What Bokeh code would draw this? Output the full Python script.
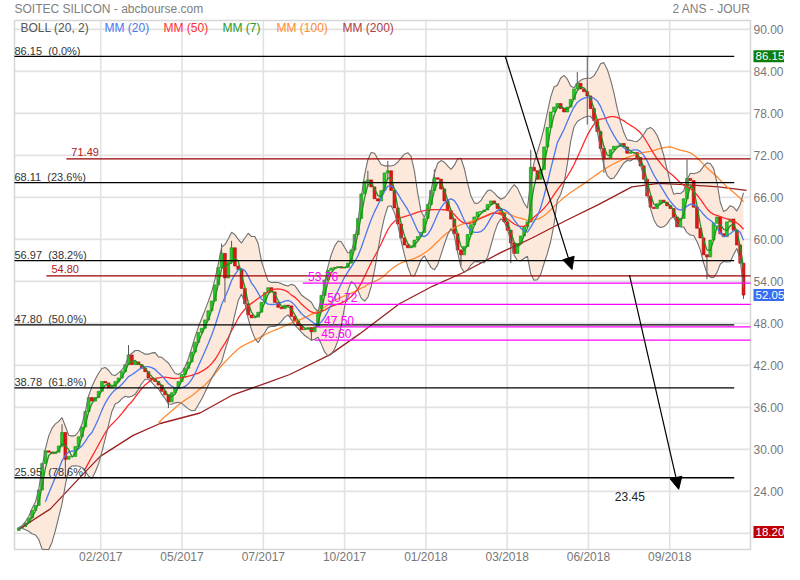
import numpy as np
import pandas as pd
from bokeh.plotting import figure
from bokeh.models import (ColumnDataSource, LabelSet, Label, Arrow, NormalHead, Range1d)
from bokeh.embed import file_html
from bokeh.resources import INLINE
from bokeh.core.properties import value

# ---------------- data ----------------
# closing prices, one sample every ~2.3 trading days (Nov 2016 -> Nov 2018)
closes = [
    18.8, 19.0, 19.5, 20.2, 21.3, 22.0, 24.2, 28.0, 29.8, 29.6,
    29.4, 29.6, 30.5, 32.4, 28.6, 29.0, 29.0, 30.4, 31.8, 33.2,
    35.4, 37.4, 36.9, 37.4, 38.3, 39.7, 39.5, 38.8, 39.0, 39.7,
    40.2, 41.1, 42.1, 43.5, 42.1, 42.5, 42.1, 41.6, 41.1, 40.2,
    40.0, 39.7, 39.2, 38.3, 37.8, 36.8, 38.1, 38.8, 39.7, 40.7,
    41.6, 42.5, 43.9, 45.3, 46.7, 47.3, 48.5,
    49.8, 51.2, 53.5, 56.0, 58.0, 54.5, 56.8, 58.8, 56.2, 55.7,
    53.0, 50.8, 49.2, 48.8, 48.9, 49.6, 51.0, 52.4, 53.1, 52.5,
    51.0, 50.3, 50.1, 50.6, 50.5, 49.0, 48.4, 47.7, 47.1, 47.2,
    47.4, 46.8, 47.5, 49.8, 52.0, 54.2, 55.6, 55.9, 56.0, 56.1,
    55.9, 56.0, 56.6, 58.5, 60.7,
    63.0, 66.5, 68.3, 68.5, 67.5, 65.8, 65.5, 67.0, 69.5, 69.8,
    67.0, 64.5, 62.2, 60.2, 59.2, 58.8, 58.9, 59.9, 60.4, 61.0,
    63.0, 65.0, 67.0, 68.8, 68.6, 67.2, 65.5, 64.1, 62.9, 60.8,
    58.5, 57.8, 59.0, 60.7, 62.1, 63.2, 63.9, 64.0, 64.2, 65.0,
    65.5, 65.1, 64.4, 63.7, 62.5,
    61.3, 59.5, 58.0, 59.4, 60.5, 61.8, 62.5, 70.3, 69.8, 68.6,
    70.0, 73.2, 76.0, 78.2, 78.9, 79.4, 78.7, 78.2, 78.9, 80.0,
    81.5, 82.3, 81.5, 81.1, 80.5, 78.7, 77.0, 75.4, 73.0, 71.5,
    71.6, 72.8, 73.3, 73.3, 73.7, 73.2, 72.3, 72.4, 72.4, 71.7,
    70.5, 68.6, 66.2, 64.6, 64.4, 65.1, 65.6, 65.3, 64.8, 64.4,
    63.2, 61.8, 63.0, 65.8, 68.7, 68.4, 64.6, 61.6, 60.2, 57.8,
    57.5, 59.9, 62.3, 63.2, 60.8, 60.4, 62.5, 62.9, 61.3, 59.2,
    56.6, 52.05,
]
first_open = 18.4

# notable wicks (sample index, low, high)
wick_idx = [13, 14, 33, 45, 61, 62, 64, 88, 105, 111, 125, 133, 148, 154,
            168, 171, 176, 201, 207, 218]
wick_low = [30.3, 26.0, 42.5, 35.9, 56.0, 51.0, 56.5, 45.6, 67.5, 68.5,
            67.5, 56.2, 56.6, 62.5, 81.5, 76.4, 69.5, 66.0, 54.3, 51.5]
wick_high = [33.6, 32.4, 44.9, 37.8, 59.4, 58.0, 59.8, 47.4, 69.8, 71.2,
             70.0, 58.5, 61.3, 72.8, 83.9, 86.15, 73.0, 71.4, 57.8, 56.6]

# MM(200) as drawn (uses history before the window)
mm200_idx = [0, 9.5, 19.4, 24.5, 34.4, 42.5, 54.5, 64.4, 74.6, 81.5, 93.5,
             102.5, 114.5, 124.4, 133.4, 144.5, 154.4, 164.6, 174.5, 184.4,
             192.5, 201.5, 210.5, 218.9]
mm200_val = [18.6, 21.5, 26.5, 29.0, 32.0, 33.7, 35.2, 37.8, 39.5, 40.7, 43.5,
             46.5, 50.8, 53.3, 55.2, 58.0, 60.2, 62.7, 65.0, 67.5,
             68.0, 67.8, 67.5, 67.0]

x_tick_index = [24.65, 49.1, 73.55, 98.0, 122.45, 146.9, 171.35, 195.8]
x_tick_labels = ["02/2017", "05/2017", "07/2017", "10/2017", "01/2018",
                 "03/2018", "06/2018", "09/2018"]
y_ticks = [18, 24, 30, 36, 42, 48, 54, 60, 66, 72, 78, 84, 90]

fib_levels = [86.15, 68.11, 56.97, 47.80, 38.78, 25.95]
fib_pct = ["0.0%", "23.6%", "38.2%", "50.0%", "61.8%", "78.6%"]
fib_end_idx = 215.2

res_levels = [71.49, 54.80]
res_start_idx = [14.3, 8.3]

mag_levels = [53.76, 50.72, 47.50, 45.60]
mag_start_idx = [85.4, 90.5, 89.0, 89.0]
mag_label_idx = [87.0, 92.8, 91.8, 91.0]

arrow_x0 = [146.3, 183.7]
arrow_y0 = [86.2, 54.9]
arrow_x1 = [166.4, 198.5]
arrow_y1 = [55.7, 24.3]
target_text = "23.45"
target_idx = 179.3
target_price = 23.3

last_close = 52.05
period_high = 86.15
period_low = 18.20

legend_texts = ["BOLL (20, 2)", "MM (20)", "MM (50)", "MM (7)", "MM (100)", "MM (200)"]
legend_colors = ["#555555", "#4a78f0", "#ff3030", "#2a9a2a", "#ff8a30", "#b04040"]

# ---------------- layout (figure pixels) ----------------
DAYS_PER_SAMPLE = 2.33
FONT = "Liberation Sans"
W, H = 784, 564
PL, PR, PT, PB = 14, 750, 20, 549          # plot-area box in pixels
X_LO, X_HI = -1.3, 220.1                    # sample range shown in the plot area
Y_LO, Y_HI = 15.70, 91.27                   # price range shown in the plot area
XPX = (PR - PL) / (X_HI - X_LO)
YPX = (PB - PT) / (Y_HI - Y_LO)


def xd(px):
    return X_LO + (px - PL) / XPX


def yd(py):
    return Y_HI - (py - PT) / YPX


c = np.array(closes, dtype=float)
o = np.concatenate([[first_open], c[:-1]])
idx = np.arange(len(c), dtype=float)
s = pd.Series(c)


def win(days):
    return max(1, int(round(days / DAYS_PER_SAMPLE)))


w20 = win(20)
mid = s.rolling(w20, min_periods=1).mean()
sd = s.rolling(w20, min_periods=1).std(ddof=0).fillna(0)
upper = (mid + 2 * sd).to_numpy()
lower = np.maximum((mid - 2 * sd).to_numpy(), Y_LO)
mm20 = s.rolling(w20).mean().to_numpy()
mm7 = s.rolling(win(7)).mean().to_numpy()
mm50 = s.rolling(win(50)).mean().to_numpy()
mm100 = s.rolling(win(100)).mean().to_numpy()

p = figure(width=W, height=H, output_backend="svg", toolbar_location=None,
           x_range=Range1d(xd(0), xd(W)), y_range=Range1d(yd(H), yd(0)),
           x_axis_location=None, y_axis_location=None, title=None,
           min_border=0, min_border_left=0, min_border_right=0,
           min_border_top=0, min_border_bottom=0,
           background_fill_color="white", border_fill_color="white",
           outline_line_color=None)
for g in p.grid:
    g.visible = False

# grid and plot-area border
p.segment(x0=[X_LO] * len(y_ticks), y0=y_ticks, x1=[X_HI] * len(y_ticks),
          y1=y_ticks, line_color="#e2e2e2", line_width=1.6)
p.segment(x0=x_tick_index, y0=[Y_LO] * len(x_tick_index), x1=x_tick_index,
          y1=[Y_HI] * len(x_tick_index), line_color="#e2e2e2", line_width=1.6)
p.quad(left=[X_LO], right=[X_HI], bottom=[Y_LO], top=[Y_HI],
       fill_color=None, line_color="#d6d6d6", line_width=1.5)

# Bollinger band fill
p.varea(x=idx, y1=lower, y2=upper, fill_color="#fde8dc", fill_alpha=1.0)

# candles
p.segment(x0=wick_idx, y0=wick_low, x1=wick_idx, y1=wick_high,
          line_color="#555555", line_width=1)
up = c >= o
p.vbar(x=idx[up], top=c[up], bottom=o[up], width=0.85,
       fill_color="#22cc22", line_color="#118811", line_width=0.6)
dn = ~up
p.vbar(x=idx[dn], top=o[dn], bottom=c[dn], width=0.85,
       fill_color="#e01818", line_color="#b00000", line_width=0.6)

# moving averages and bands
p.line(x=mm200_idx, y=mm200_val, line_color="#9a2020", line_width=1.3)
p.line(x=idx, y=mm100, line_color="#ff8a30", line_width=1.3)
p.line(x=idx, y=mm50, line_color="#ff2a2a", line_width=1.3)
p.line(x=idx, y=mm20, line_color="#4a78f0", line_width=1.3)
p.line(x=idx, y=mm7, line_color="#1f8f1f", line_width=1.3)
p.line(x=idx, y=upper, line_color="#707070", line_width=1.1)
p.line(x=idx, y=lower, line_color="#707070", line_width=1.1)

# Fibonacci retracements
nb = "\u00a0"
p.segment(x0=[X_LO] * len(fib_levels), y0=fib_levels,
          x1=[fib_end_idx] * len(fib_levels), y1=fib_levels,
          line_color="black", line_width=1.3)
fib_src = ColumnDataSource(dict(
    x=[X_LO] * len(fib_levels), y=[v + 1.5 / YPX for v in fib_levels],
    t=["%.2f%s%s(%s)" % (v, nb, nb, q) for v, q in zip(fib_levels, fib_pct)]))
p.add_layout(LabelSet(x="x", y="y", text="t", source=fib_src,
                      text_font=value(FONT), text_font_size="11px",
                      text_color="#333333", text_baseline="alphabetic"))

# resistance lines
p.segment(x0=res_start_idx, y0=res_levels, x1=[X_HI] * 2, y1=res_levels,
          line_color="#9a0000", line_width=1.3)
res_src = ColumnDataSource(dict(
    x=[v + 5 / XPX for v in res_start_idx], y=[v + 2.5 / YPX for v in res_levels],
    t=["%.2f" % v for v in res_levels]))
p.add_layout(LabelSet(x="x", y="y", text="t", source=res_src,
                      text_font=value(FONT), text_font_size="11px",
                      text_color="#b02020", text_baseline="alphabetic"))

# magenta levels
p.segment(x0=mag_start_idx, y0=mag_levels, x1=[X_HI] * 4, y1=mag_levels,
          line_color="#ff00ff", line_width=1.2)
mag_src = ColumnDataSource(dict(
    x=mag_label_idx, y=[v + 2.0 / YPX for v in mag_levels],
    t=["%.2f" % v for v in mag_levels]))
p.add_layout(LabelSet(x="x", y="y", text="t", source=mag_src,
                      text_font=value(FONT), text_font_size="12px",
                      text_color="#ff00ff", text_baseline="alphabetic"))

# trend arrows
for xa, ya, xb, yb in zip(arrow_x0, arrow_y0, arrow_x1, arrow_y1):
    p.add_layout(Arrow(end=NormalHead(size=12, fill_color="black", line_color="black"),
                       x_start=xa, y_start=ya, x_end=xb, y_end=yb,
                       line_color="black", line_width=1.2))
p.add_layout(Label(x=target_idx, y=target_price, text=target_text,
                   text_font=FONT, text_font_size="12px",
                   text_color="#222222", text_baseline="middle"))

# legend row
leg_src = ColumnDataSource(dict(x=[xd(v) for v in [20, 104, 163, 222, 276, 342]],
                                y=[yd(27.5)] * 6, t=legend_texts, c=legend_colors))
p.add_layout(LabelSet(x="x", y="y", text="t", text_color="c", source=leg_src,
                      text_font=value(FONT), text_font_size="12px",
                      text_baseline="middle"))

# titles
p.add_layout(Label(x=xd(14), y=yd(8.5), text="SOITEC SILICON - abcbourse.com",
                   text_font=FONT, text_font_size="12px",
                   text_color="#808080", text_baseline="middle"))
p.add_layout(Label(x=xd(750), y=yd(8.5), text="2 ANS - JOUR",
                   text_font=FONT, text_font_size="12px",
                   text_color="#808080", text_baseline="middle", text_align="right"))

# y-axis labels (right)
ysrc = ColumnDataSource(dict(x=[xd(753)] * len(y_ticks), y=y_ticks,
                             t=["%.2f" % v for v in y_ticks]))
p.add_layout(LabelSet(x="x", y="y", text="t", source=ysrc,
                      text_font=value(FONT), text_font_size="12px",
                      text_color="#777777", text_baseline="middle"))

# value boxes
for v, col in [(period_high, "#0b7d0b"), (last_close, "#3a6cf0"), (period_low, "#c00000")]:
    p.add_layout(Label(x=xd(753), y=v, text="%.2f" % v, text_font=FONT,
                       text_font_size="11.5px", text_color="white",
                       text_baseline="middle", background_fill_color=col,
                       padding=(2, 1, 2, 2)))

# x-axis labels (below)
xsrc = ColumnDataSource(dict(x=x_tick_index, y=[yd(556)] * len(x_tick_index),
                             t=x_tick_labels))
p.add_layout(LabelSet(x="x", y="y", text="t", source=xsrc,
                      text_font=value(FONT), text_font_size="12px",
                      text_color="#777777", text_baseline="middle",
                      text_align="center"))

open("out.html", "w").write(file_html(p, INLINE))
